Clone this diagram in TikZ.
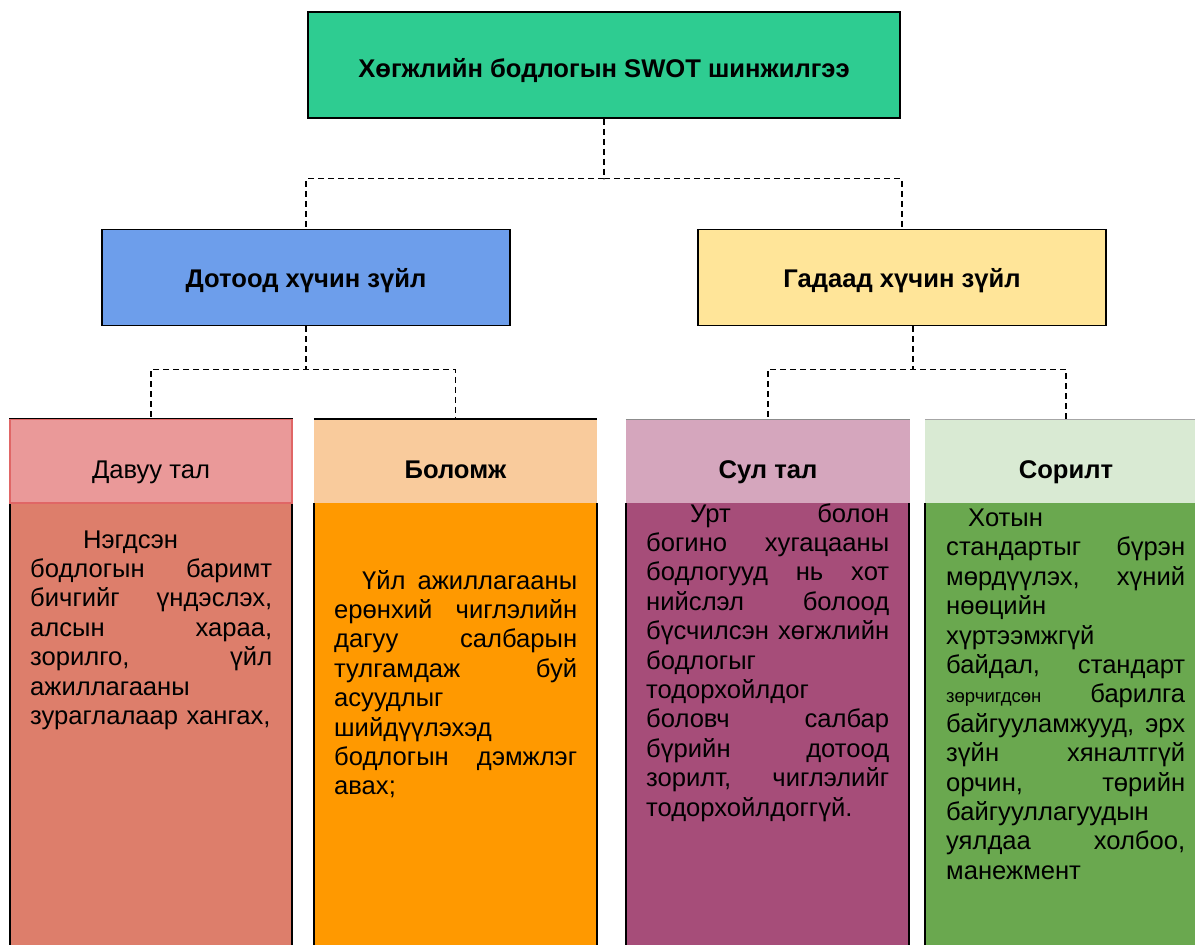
\documentclass[tikz,border=0pt]{standalone}
\usepackage{fontspec}
\setmainfont{Liberation Sans}
\usetikzlibrary{calc}
\definecolor{titlegreen}{HTML}{2ECC91}
\definecolor{innerblue}{HTML}{6D9EEB}
\definecolor{outeryellow}{HTML}{FFE599}
\definecolor{sHead}{HTML}{EA9999}
\definecolor{sBorder}{HTML}{E06666}
\definecolor{sBody}{HTML}{DD7E6B}
\definecolor{oHead}{HTML}{F9CB9C}
\definecolor{oBody}{HTML}{FF9900}
\definecolor{wHead}{HTML}{D5A6BD}
\definecolor{wBody}{HTML}{A64D79}
\definecolor{tHead}{HTML}{D9EAD3}
\definecolor{tBody}{HTML}{6AA84F}
\begin{document}
\begin{tikzpicture}[x=1pt,y=-1pt,
  topbox/.style={draw=black, line width=1.5pt, inner sep=0pt,
    font=\fontsize{25.6}{30}\selectfont\bfseries, text height=20pt, text depth=0pt},
  headbox/.style={inner sep=0pt, minimum height=84pt, text height=35pt, text depth=0pt,
    font=\fontsize{25.6}{30}\selectfont},
  conn/.style={draw=black, line width=1.4pt, dash pattern=on 6pt off 4pt},
  sideline/.style={draw=black, line width=1.4pt},
  bodytext/.style={anchor=base west, inner sep=0pt, align=left,
    font=\fontsize{25.6}{29.4}\selectfont}]
\useasboundingbox (0,0) rectangle (1195,945);
\clip (0,0) rectangle (1195,945);

% level 1 and 2
\node[topbox, fill=titlegreen, minimum width=592pt, minimum height=106pt, text height=24pt]
  (title) at (604,65) {Хөгжлийн бодлогын SWOT шинжилгээ};
\node[topbox, fill=innerblue, minimum width=408pt, minimum height=96pt]
  (inner) at (306,277.5) {Дотоод хүчин зүйл};
\node[topbox, fill=outeryellow, minimum width=408pt, minimum height=96pt]
  (outer) at (902,277.5) {Гадаад хүчин зүйл};

% column bodies
\fill[sBody] (10,503) rectangle (292,960);
\fill[oBody] (314,503) rectangle (597,960);
\fill[wBody] (626,503) rectangle (910,960);
\fill[tBody] (925,503) rectangle (1207,960);
\draw[sideline] (10,419) -- (10,960) (292,419) -- (292,960);
\draw[sideline] (314,503) -- (314,960) (597,503) -- (597,960);
\draw[sideline] (626,503) -- (626,960) (909,503) -- (909,960);
\draw[sideline] (925,503) -- (925,960);

% column headers
\node[headbox, fill=sHead, draw=sBorder, line width=1.5pt, minimum width=282pt]
  (sh) at (151,461) {Давуу тал};
\node[headbox, fill=oHead, minimum width=283pt, font=\fontsize{25.6}{30}\selectfont\bfseries]
  (oh) at (455.5,461) {Боломж};
\node[headbox, fill=wHead, minimum width=284pt, font=\fontsize{25.6}{30}\selectfont\bfseries]
  (wh) at (768,461) {Сул тал};
\node[headbox, fill=tHead, minimum width=282pt, font=\fontsize{25.6}{30}\selectfont\bfseries]
  (th) at (1066,461) {Сорилт};
\draw[line width=1.5pt] (sh.north west) -- (sh.north east);
\draw[line width=1.5pt] (oh.north west) -- (oh.north east);
\draw[line width=0.6pt, black!45] (wh.north west) -- (wh.north east);
\draw[line width=0.6pt, black!35] (th.north west) -- (th.north east);

% connectors
\draw[conn] (title.south) -- ++(0,60) -| (inner.north);
\draw[conn] (title.south) -- ++(0,60) -| (outer.north);
\draw[conn] (inner.south) -- ++(0,43) -| (sh.north);
\draw[conn] (inner.south) -- ++(0,43) -| (oh.north);
\coordinate (outerdrop) at ($(outer.south)+(11,0)$);
\draw[conn] (outerdrop) -- ++(0,43) -| (wh.north);
\draw[conn] (outerdrop) -- ++(0,43) -| (th.north);

% body texts
\node[bodytext, text width=242pt] (st) at (30,548) {%
\hspace*{53pt}Нэгдсэн\\
бодлогын\hfill баримт\\
бичгийг\hfill үндэслэх,\\
алсын\hfill хараа,\\
зорилго,\hfill үйл\\
ажиллагааны\\
зураглалаар хангах,};

\node[bodytext, text width=243pt] (ot) at (334,589) {%
\hspace*{28pt}Үйл\hfill ажиллагааны\\
ерөнхий\hfill чиглэлийн\\
дагуу\hfill салбарын\\
тулгамдаж\hfill буй\\
асуудлыг\\
шийдүүлэхэд\\
бодлогын\hfill дэмжлэг\\
авах;};

\node[bodytext, text width=243pt] (wt) at (646,522) {%
\hspace*{44pt}Урт\hfill болон\\
богино\hfill хугацааны\\
бодлогууд\hfill нь\hfill хот\\
нийслэл\hfill болоод\\
бүсчилсэн\hfill хөгжлийн\\
бодлогыг\\
тодорхойлдог\\
боловч\hfill салбар\\
бүрийн\hfill дотоод\\
зорилт,\hfill чиглэлийг\\
тодорхойлдоггүй.};

\node[bodytext, text width=239pt] (tt) at (946,526.5) {%
\hspace*{22pt}Хотын\\
стандартыг\hfill бүрэн\\
мөрдүүлэх,\hfill хүний\\
нөөцийн\\
хүртээмжгүй\\
байдал,\hfill стандарт\\
{\fontsize{18.5}{29.4}\selectfont зөрчигдсөн}\hfill барилга\\
байгууламжууд,\hfill эрх\\
зүйн\hfill хяналтгүй\\
орчин,\hfill төрийн\\
байгууллагуудын\\
уялдаа\hfill холбоо,\\
манежмент};
\end{tikzpicture}
\end{document}
